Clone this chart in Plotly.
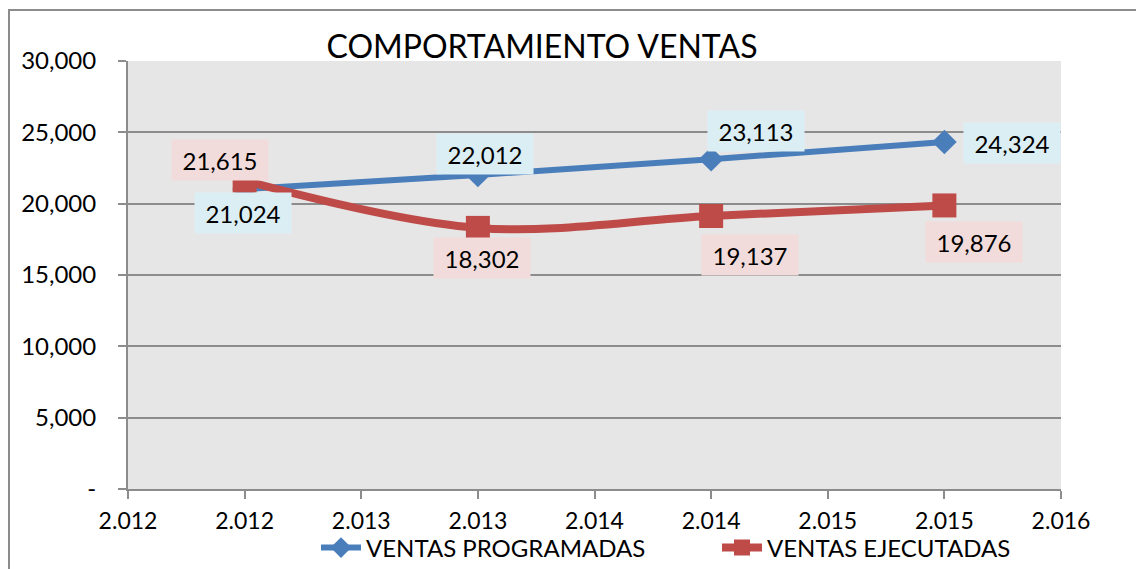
import plotly.graph_objects as go

# ---- data ----
years = [2012, 2013, 2014, 2015]
ventas_programadas = [21024, 22012, 23113, 24324]
ventas_ejecutadas = [21615, 18302, 19137, 19876]

x_tickvals = [2011.5, 2012, 2012.5, 2013, 2013.5, 2014, 2014.5, 2015, 2015.5]
x_ticktext = ["2.012", "2.012", "2.013", "2.013", "2.014", "2.014", "2.015", "2.015", "2.016"]
y_tickvals = [0, 5000, 10000, 15000, 20000, 25000, 30000]
y_ticktext = ["-", "5,000", "10,000", "15,000", "20,000", "25,000", "30,000"]

title_text = "COMPORTAMIENTO VENTAS"
name_prog = "VENTAS PROGRAMADAS"
name_ejec = "VENTAS EJECUTADAS"

# ---- styles ----
BLUE = "#4a7ebb"
RED = "#be4b48"
BLUE_BG = "#dbeef4"
RED_BG = "#f2dcdb"
GRID = "#8c8c8c"
FONT = "Lato"
OFF = 8  # page offset of the figure div (body margin)

PL, PT, PW, PH = 128 - OFF, 61 - OFF, 933, 428

prog_offsets = [(-2, -24), (7, 21), (45, 28), (68, -1)]
ejec_offsets = [(-25, 21), (4, -30), (39, -39), (30, -37)]

fig = go.Figure()
fig.add_trace(go.Scatter(
    x=years, y=ventas_programadas, name=name_prog, mode="lines+markers",
    line=dict(color=BLUE, width=6),
    marker=dict(symbol="diamond", size=19, color=BLUE),
))
fig.add_trace(go.Scatter(
    x=years, y=ventas_ejecutadas, name=name_ejec, mode="lines+markers",
    line=dict(color=RED, width=8, shape="spline", smoothing=1),
    marker=dict(symbol="square", size=24, color=RED),
))

annotations = []
for xv, yv, (dx, dy) in zip(years, ventas_programadas, prog_offsets):
    annotations.append(dict(x=xv, y=yv, xref="x", yref="y", text=f"{yv:,}",
                            showarrow=False, xshift=dx, yshift=dy,
                            bgcolor=BLUE_BG, width=94, height=38, borderpad=1,
                            font=dict(family=FONT, size=24, color="black")))
for xv, yv, (dx, dy) in zip(years, ventas_ejecutadas, ejec_offsets):
    annotations.append(dict(x=xv, y=yv, xref="x", yref="y", text=f"{yv:,}",
                            showarrow=False, xshift=dx, yshift=dy,
                            bgcolor=RED_BG, width=94, height=38, borderpad=1,
                            font=dict(family=FONT, size=24, color="black")))

fig.update_layout(
    template="none",
    width=1144, height=569,
    margin=dict(l=PL, r=1144 - PL - PW, t=PT, b=569 - PT - PH, autoexpand=False),
    paper_bgcolor="white",
    plot_bgcolor="#e6e6e6",
    font=dict(family=FONT, size=23, color="black"),
    title=dict(text=title_text, x=(542 - 128) / PW, xref="paper", xanchor="center",
               y=1 - (47 - OFF) / 569, yref="container", yanchor="middle",
               font=dict(family=FONT, size=32, color="black")),
    showlegend=True,
    legend=dict(orientation="h", x=(316 - 128) / PW, xanchor="left",
                y=(489 - 548) / PH, yanchor="middle",
                font=dict(family=FONT, size=24, color="black"),
                bgcolor="rgba(0,0,0,0)", itemwidth=40, tracegroupgap=0,
                entrywidth=346, entrywidthmode="pixels"),
    annotations=annotations,
    shapes=[dict(type="rect", xref="paper", yref="paper",
                 x0=(9 - 128) / PW, x1=1.3, y0=-0.4, y1=(489 - 10) / PH,
                 line=dict(color="#8c8c8c", width=2), fillcolor="rgba(0,0,0,0)",
                 layer="below")],
)
fig.update_xaxes(range=[2011.5, 2015.5], tickvals=x_tickvals, ticktext=x_ticktext,
                 automargin=False,
                 showgrid=False, zeroline=False, showline=True, linecolor=GRID, linewidth=2,
                 ticks="outside", ticklen=8, tickwidth=2, tickcolor=GRID,
                 ticklabelstandoff=2,
                 tickfont=dict(family=FONT, size=23, color="black"))
fig.update_yaxes(range=[0, 30000], tickvals=y_tickvals, ticktext=y_ticktext,
                 automargin=False,
                 showgrid=True, gridcolor=GRID, gridwidth=2, zeroline=False,
                 showline=True, linecolor=GRID, linewidth=2,
                 ticks="outside", ticklen=8, tickwidth=2, tickcolor=GRID,
                 ticklabelstandoff=17,
                 tickfont=dict(family=FONT, size=24, color="black"))

fig.write_html("out.html")
